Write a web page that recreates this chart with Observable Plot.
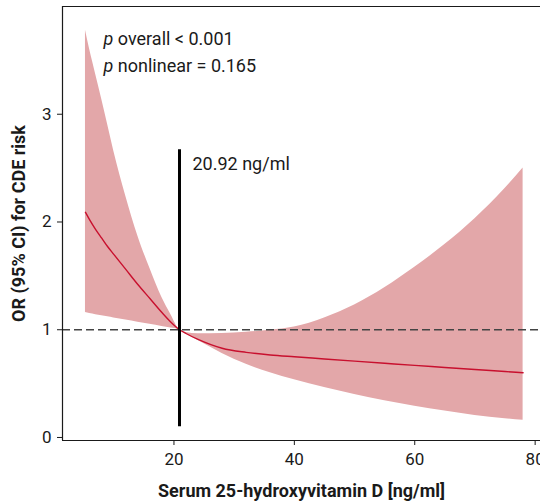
<!DOCTYPE html>
<html>
<head>
<meta charset="utf-8">
<script src="https://cdn.jsdelivr.net/npm/d3@7"></script>
<script src="https://cdn.jsdelivr.net/npm/@observablehq/plot@0.6"></script>
<style>
  html, body { margin: 0; padding: 0; background: white; }
  #chart svg { display: block; }
  g[aria-label="x-axis label"] text, g[aria-label="y-axis label"] text { font-weight: bold; font-size: 18px; }
</style>
</head>
<body>
<div id="chart"></div>
<script>
// Serum 25-hydroxyvitamin D values (ng/ml)
const vitD = [5.3, 6, 7, 8, 9, 10, 12, 14, 16, 18, 19.5, 20.92, 22, 24, 28, 32, 36, 40, 45, 50, 55, 60, 65, 70, 75, 78];
// Odds ratio estimate
const orEst = [2.09, 2.02, 1.93, 1.85, 1.77, 1.70, 1.56, 1.42, 1.29, 1.16, 1.07, 1.0, 0.965, 0.91, 0.828, 0.79, 0.766, 0.749, 0.729, 0.709, 0.689, 0.669, 0.650, 0.631, 0.612, 0.601];
// 95% CI upper bound
const ciUpper = [3.78, 3.60, 3.37, 3.14, 2.90, 2.66, 2.24, 1.87, 1.57, 1.30, 1.14, 1.0, 0.975, 0.962, 0.965, 0.977, 0.995, 1.025, 1.11, 1.23, 1.39, 1.58, 1.79, 2.03, 2.31, 2.50];
// 95% CI lower bound
const ciLower = [1.16, 1.15, 1.14, 1.13, 1.12, 1.11, 1.09, 1.07, 1.05, 1.03, 1.015, 1.0, 0.96, 0.90, 0.78, 0.68, 0.60, 0.535, 0.465, 0.40, 0.34, 0.29, 0.245, 0.205, 0.175, 0.16];

const xTicks = [20, 40, 60, 80];
const yTicks = [0, 1, 2, 3];
const xDomain = [1.484, 80.89];
const yDomain = [-0.028, 4.0];

const refValue = [1];
const cutoff = [{x: 20.92, y1: 0.10, y2: 2.67, labelY: 2.54, label: "20.92 ng/ml"}];
const stats = [
  {x: 8.3, y: 3.70, label: "p overall < 0.001"},
  {x: 8.3, y: 3.45, label: "p nonlinear = 0.165"}
];
const xLabel = "Serum 25-hydroxyvitamin D [ng/ml]";
const yLabel = "OR (95% CI) for CDE risk";

const rows = vitD.map((x, i) => ({x, or: orEst[i], lo: ciLower[i], hi: ciUpper[i]}));

const chart = Plot.plot({
  width: 540,
  height: 502,
  marginLeft: 62,
  marginRight: 0,
  marginTop: 6,
  marginBottom: 62,
  style: {fontFamily: "Roboto", fontSize: "17px", background: "white", color: "#1a1a1a"},
  x: {domain: xDomain, range: [62, 540]},
  y: {domain: yDomain},
  marks: [
    Plot.areaY(rows, {x: "x", y1: "lo", y2: "hi", fill: "#e3a7a9", curve: "monotone-x"}),
    Plot.lineY(rows, {x: "x", y: "or", stroke: "#c8102e", strokeWidth: 1.4, curve: "monotone-x"}),
    Plot.ruleY(refValue, {stroke: "#444", strokeWidth: 1.3, strokeDasharray: "8,4"}),
    Plot.ruleX(cutoff, {x: "x", y1: "y1", y2: "y2", stroke: "black", strokeWidth: 3}),
    Plot.text(cutoff, {x: "x", y: "labelY", text: "label", dx: 13, textAnchor: "start", fontSize: 18, fill: "#1a1a1a"}),
    Plot.text(stats, {x: "x", y: "y", text: "label", textAnchor: "start", fontSize: 18, fill: "#1a1a1a"}),
    Plot.ruleY([yDomain[1]], {stroke: "#1a1a1a", strokeWidth: 1.2}),
    Plot.ruleY([yDomain[0]], {stroke: "#1a1a1a", strokeWidth: 1.2}),
    Plot.ruleX([xDomain[0]], {stroke: "#1a1a1a", strokeWidth: 1.2}),
    Plot.axisX({ticks: xTicks, tickFormat: d => String(d), tickSize: 5, tickPadding: 7, label: xLabel, labelAnchor: "center", labelOffset: 56, labelArrow: "none"}),
    Plot.axisY({ticks: yTicks, tickFormat: d => String(d), tickSize: 5, tickPadding: 6, label: yLabel, labelAnchor: "center", labelOffset: 50, labelArrow: "none"})
  ]
});

// italic "p" in the statistics annotations
const statLabels = new Set(stats.map(d => d.label));
chart.querySelectorAll("text").forEach(t => {
  const s = t.textContent;
  if (statLabels.has(s)) {
    while (t.firstChild) t.removeChild(t.firstChild);
    t.setAttribute("xml:space", "preserve");
    t.style.whiteSpace = "pre";
    const ts = document.createElementNS("http://www.w3.org/2000/svg", "tspan");
    ts.setAttribute("font-style", "italic");
    ts.textContent = s.slice(0, 1);
    t.appendChild(ts);
    t.appendChild(document.createTextNode(s.slice(1)));
  }
});

document.getElementById("chart").appendChild(chart);
</script>
</body>
</html>
